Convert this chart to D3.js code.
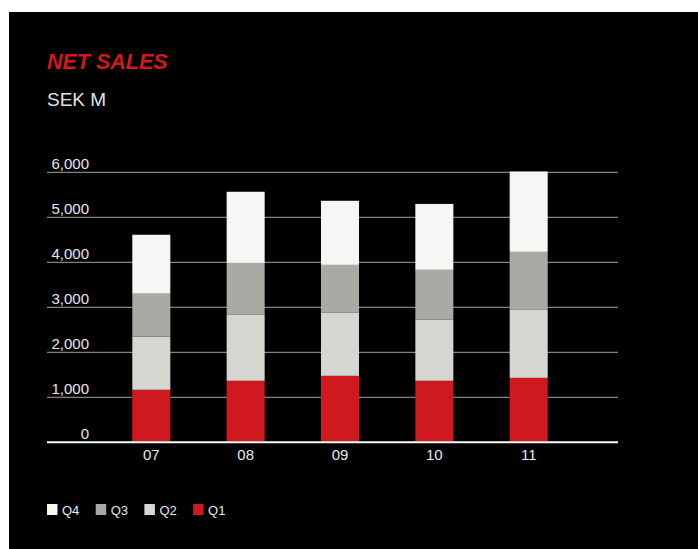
<!DOCTYPE html>
<html>
<head>
<meta charset="utf-8">
<script src="https://cdn.jsdelivr.net/npm/d3@7/dist/d3.min.js"></script>
<style>
  html, body { margin: 0; padding: 0; background: #ffffff; }
  svg { display: block; font-family: "Liberation Sans", Arial, Helvetica, sans-serif; }
</style>
</head>
<body>
<svg id="chart" width="698" height="549"></svg>
<script>
// Net sales per quarter, SEK M
const years = ["07", "08", "09", "10", "11"];
const q1 = [1145, 1345, 1455, 1345, 1410];
const q2 = [1180, 1465, 1400, 1355, 1510];
const q3 = [955, 1155, 1065, 1110, 1290];
const q4 = [1310, 1580, 1425, 1465, 1785];
const yTicks = [0, 1000, 2000, 3000, 4000, 5000, 6000];
const seriesKeys = ["Q1", "Q2", "Q3", "Q4"];
const legendOrder = ["Q4", "Q3", "Q2", "Q1"];

const colors = { Q1: "#d0191e", Q2: "#d5d6d1", Q3: "#a9aaa4", Q4: "#f6f6f4" };

const rows = years.map((y, i) => ({ year: y, Q1: q1[i], Q2: q2[i], Q3: q3[i], Q4: q4[i] }));
const stacked = d3.stack().keys(seriesKeys)(rows);

const svg = d3.select("#chart");

// black panel
svg.append("rect").attr("x", 9).attr("y", 12).attr("width", 689).attr("height", 537).attr("fill", "#000");

const gridLeft = 47, gridRight = 618;
const y = d3.scaleLinear().domain([0, 6000]).range([441.3, 171.3]);
const x = d3.scaleBand().domain(years).range([104, 576]).paddingInner(0.597).paddingOuter(0.3);

// title
svg.append("text").attr("x", 47).attr("y", 69)
  .attr("fill", "#d0191e").attr("font-size", 21.5).attr("font-weight", "bold").attr("font-style", "italic")
  .text("NET SALES");
svg.append("text").attr("x", 47).attr("y", 105.5)
  .attr("fill", "#e2e2e2").attr("font-size", 19)
  .text("SEK M");

// y axis: gridlines and labels
const yAxis = d3.axisLeft(y).tickValues(yTicks.filter(t => t > 0)).tickSize(-(gridRight - gridLeft)).tickFormat("");
const gy = svg.append("g").attr("transform", `translate(${gridLeft},0)`).call(yAxis);
gy.select(".domain").remove();
gy.selectAll(".tick line").attr("stroke", "#a3a3a3").attr("stroke-width", 1).attr("transform", "translate(0,0.5)");

svg.append("g").selectAll("text").data(yTicks).join("text")
  .attr("x", 89).attr("y", d => y(d) - 2.5)
  .attr("text-anchor", "end").attr("fill", "#e8e8e8").attr("font-size", 15)
  .text(d => d3.format(",")(d));

// stacked bars
svg.append("g").selectAll("g").data(stacked).join("g")
  .attr("fill", s => colors[s.key])
  .selectAll("rect").data(s => s).join("rect")
  .attr("x", d => x(d.data.year))
  .attr("width", x.bandwidth())
  .attr("y", d => y(d[1]))
  .attr("height", d => y(d[0]) - y(d[1]));

// baseline
svg.append("line").attr("x1", gridLeft).attr("x2", gridRight).attr("y1", 442.3).attr("y2", 442.3)
  .attr("stroke", "#fff").attr("stroke-width", 2);

// x labels
const xAxis = d3.axisBottom(x).tickSize(0).tickPadding(0);
const gx = svg.append("g").attr("transform", "translate(0,449)").call(xAxis);
gx.select(".domain").remove();
gx.selectAll("text").attr("fill", "#e8e8e8").attr("font-size", 15)
  .attr("font-family", "Liberation Sans, Arial, sans-serif").attr("dy", "0.71em");

// legend
const lg = svg.append("g").attr("transform", "translate(47,504)");
const item = lg.selectAll("g").data(legendOrder).join("g")
  .attr("transform", (d, i) => `translate(${i * 48.7},0)`);
item.append("rect").attr("width", 10.5).attr("height", 11).attr("fill", d => colors[d]);
item.append("text").attr("x", 15).attr("y", 11).attr("fill", "#e8e8e8").attr("font-size", 13).text(d => d);
</script>
</body>
</html>
